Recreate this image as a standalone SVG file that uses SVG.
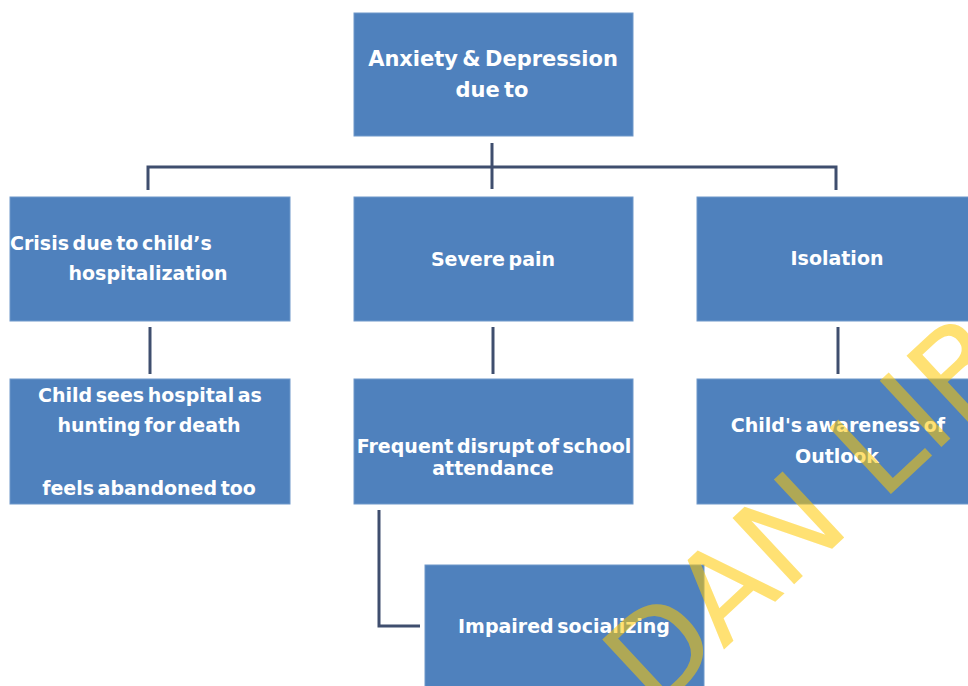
<svg xmlns="http://www.w3.org/2000/svg" width="968" height="686" viewBox="0 0 968 686">
<style>
.box{fill:#4F81BD;stroke:#6F98CA;stroke-width:1}
.t{font-family:"DejaVu Sans","Verdana",sans-serif;font-weight:bold;font-size:19px;fill:#FFFFFF;word-spacing:-3px}
.big{font-size:21px}
.c{text-anchor:middle}
.con{fill:none;stroke:#3F4E6E;stroke-width:3}
.wm{font-family:"DejaVu Sans",sans-serif;font-size:124px;fill:#FFC800;fill-opacity:0.55}
</style>
<rect width="968" height="686" fill="#FFFFFF"/>
<g id="connectors">
<line class="con" x1="492" y1="143" x2="492" y2="189"/>
<polyline class="con" points="148,190 148,167 836,167 836,190"/>
<line class="con" x1="150" y1="327" x2="150" y2="374"/>
<line class="con" x1="493" y1="327" x2="493" y2="374"/>
<line class="con" x1="838" y1="327" x2="838" y2="374"/>
<polyline class="con" points="379,510 379,626 420,626"/>
</g>
<g id="n-root">
<rect class="box" x="354" y="13" width="279" height="123"/>
<text class="t big c" x="493" y="66">Anxiety &amp; Depression</text>
<text class="t big c" x="492" y="97">due to</text>
</g>
<g id="n-crisis">
<rect class="box" x="10" y="197" width="280" height="124"/>
<text class="t" x="10" y="250">Crisis due to child’s</text>
<text class="t c" x="148" y="280">hospitalization</text>
</g>
<g id="n-pain">
<rect class="box" x="354" y="197" width="279" height="124"/>
<text class="t c" x="493" y="266">Severe pain</text>
</g>
<g id="n-isolation">
<rect class="box" x="697" y="197" width="290" height="124"/>
<text class="t c" x="837" y="265">Isolation</text>
</g>
<g id="n-hospital">
<rect class="box" x="10" y="379" width="280" height="125"/>
<text class="t c" x="150" y="402">Child sees hospital as</text>
<text class="t c" x="149" y="432">hunting for death</text>
<text class="t c" x="149" y="495">feels abandoned too</text>
</g>
<g id="n-school">
<rect class="box" x="354" y="379" width="279" height="125"/>
<text class="t c" x="494" y="453">Frequent disrupt of school</text>
<text class="t c" x="493" y="475">attendance</text>
</g>
<g id="n-awareness">
<rect class="box" x="697" y="379" width="290" height="125"/>
<text class="t c" x="838" y="432">Child's awareness of</text>
<text class="t c" x="837" y="463">Outlook</text>
</g>
<g id="n-social">
<rect class="box" x="425" y="565" width="279" height="140"/>
<text class="t c" x="564" y="633">Impaired socializing</text>
</g>
<text class="wm" transform="translate(655 714) rotate(-43)">DAN LIB</text>
</svg>
